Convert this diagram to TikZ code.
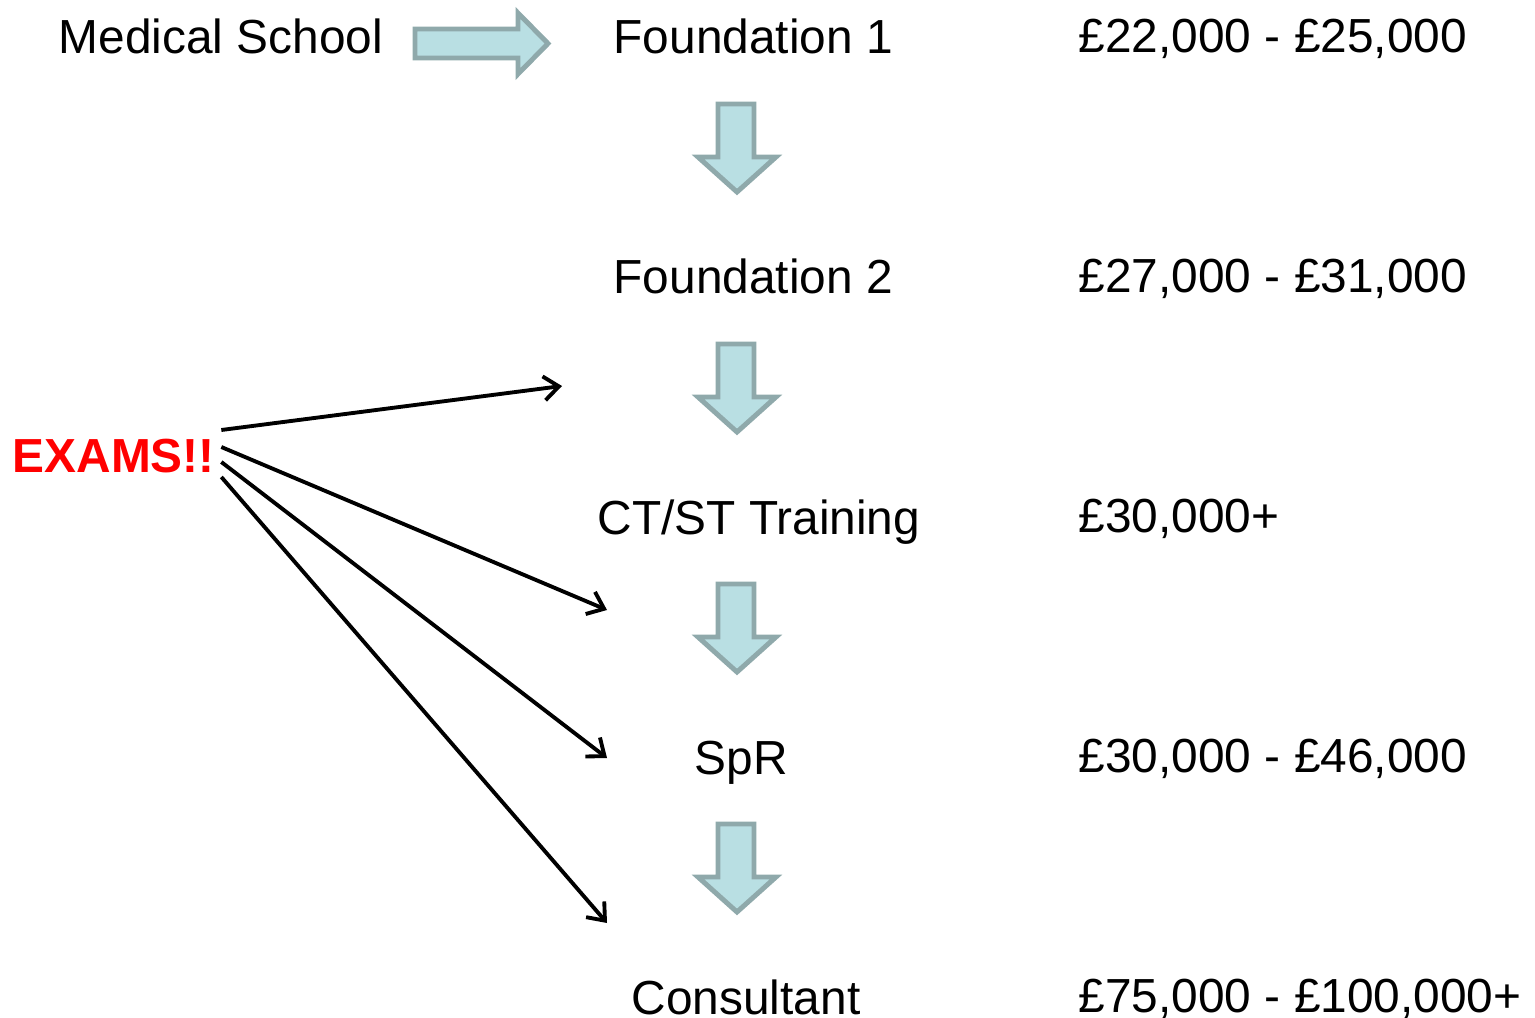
\documentclass[tikz,border=0pt]{standalone}
\usepackage{fontspec}
\setmainfont{Liberation Sans}
\usetikzlibrary{arrows.meta}

\definecolor{arrowfill}{HTML}{B9DFE3}
\definecolor{arrowline}{HTML}{8FA9AB}

\tikzset{
  stage/.style={anchor=base west, inner sep=0pt, font=\fontsize{13.6}{16}\selectfont},
  pay/.style={stage},
  exam/.style={stage, text=red, font=\fontsize{13.6}{16}\selectfont\bfseries},
  blockarrow/.style={fill=arrowfill, draw=arrowline, line width=1.4pt, line join=miter},
  examline/.style={line width=1.1pt, -{Straight Barb[length=1.5mm,width=2.4mm]}}
}

\begin{document}
\begin{tikzpicture}[x=0.01cm, y=-0.01cm]
    \useasboundingbox (0,0) rectangle (1535,1018);

    % career stages
    \node[stage] (school) at (58,54)   {Medical School};
    \node[stage] (fy1)    at (613,54)  {Foundation 1};
    \node[stage] (fy2)    at (613,294) {Foundation 2};
    \node[stage] (ct)     at (597,534) {CT/ST Training};
    \node[stage] (spr)    at (694,774) {SpR};
    \node[stage] (cons)   at (631,1014) {Consultant};

    % salaries
    \node[pay] (pay1) at (1078,52)   {£22,000 - £25,000};
    \node[pay] (pay2) at (1078,292)  {£27,000 - £31,000};
    \node[pay] (pay3) at (1078,532)  {£30,000+};
    \node[pay] (pay4) at (1078,772)  {£30,000 - £46,000};
    \node[pay] (pay5) at (1078,1012) {£75,000 - £100,000+};

    % block arrows
    \draw[blockarrow] (415,29) -- (518,29) -- (518,13) -- (548,43.5)
        -- (518,74) -- (518,58) -- (415,58) -- cycle;
    \foreach \y in {0,240,480,720} {
        \draw[blockarrow, shift={(0,\y)}] (718,104) -- (754,104) -- (754,157)
            -- (776,157) -- (737,192) -- (698,157) -- (718,157) -- cycle;
    }

    % exams
    \node[exam] (exams) at (12,472) {EXAMS!!};
    \coordinate (e1) at (562,386);
    \coordinate (e2) at (607,610);
    \coordinate (e3) at (607,758);
    \coordinate (e4) at (607,923);
    \draw[examline] ([shift={(6,-42)}]exams.base east) -- (e1);
    \draw[examline] ([shift={(6,-25)}]exams.base east) -- (e2);
    \draw[examline] ([shift={(6,-10)}]exams.base east) -- (e3);
    \draw[examline] ([shift={(6,5)}]exams.base east) -- (e4);
\end{tikzpicture}
\end{document}
